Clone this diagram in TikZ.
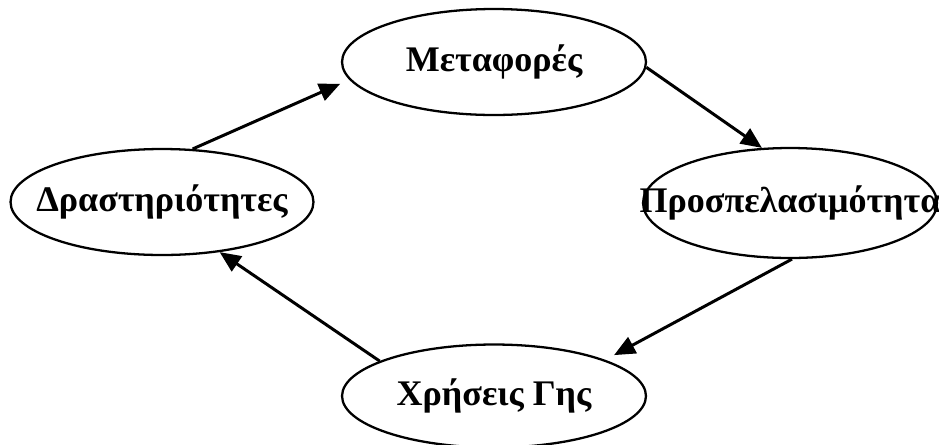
\documentclass[tikz,border=0pt]{standalone}
\usepackage{fontspec}
\setmainfont{Liberation Serif}
\usetikzlibrary{shapes.geometric,arrows.meta}
\begin{document}
\begin{tikzpicture}[x=0.02cm, y=-0.02cm, >={Triangle[length=4.2mm,width=3.6mm]},
    bubble/.style={draw, line width=1.3pt, ellipse, inner sep=0pt},
    word/.style={font=\bfseries\fontsize{20.5}{24}\selectfont, inner sep=0pt},
    link/.style={->, line width=1.7pt}]
            \useasboundingbox (0,0) rectangle (939,444);
            \node[bubble, minimum width=6.08cm, minimum height=2.12cm, label={[word]center:Μεταφορές}] (meta) at (494,62) {};
            \node[bubble, minimum width=6.06cm, minimum height=2.12cm, label={[word]center:Δραστηριότητες}] (drast) at (162,202) {};
            \node[bubble, minimum width=5.88cm, minimum height=2.2cm, label={[word]center:Προσπελασιμότητα}] (prosp) at (790,203) {};
            \node[bubble, minimum width=6.08cm, minimum height=2.06cm, label={[word]center:Χρήσεις Γης}] (xrisi) at (494,396) {};
            \draw[link, shorten >=0.2cm] (drast.60) -- (meta.187);
            \draw[link] (meta.-2) -- (prosp.117);
            \draw[link, shorten >=0.2cm] (prosp.-88) -- (xrisi.18);
            \draw[link] (xrisi.163) -- (drast.-41);
        \end{tikzpicture}
\end{document}
